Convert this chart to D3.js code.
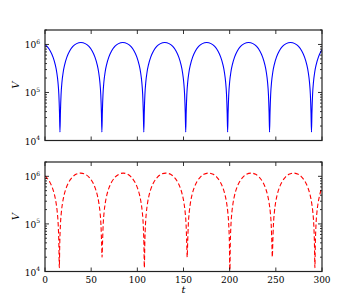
<!DOCTYPE html>
<html><head><meta charset="utf-8">
<script src="https://cdn.jsdelivr.net/npm/d3@7"></script>
<style>body{margin:0;background:#fff}svg{display:block}</style>
</head><body>
<svg id="c" width="358" height="303"></svg>
<script>
// ---- data ----
const xTicks = [0, 50, 100, 150, 200, 250, 300];
const yTicks = [1e4, 1e5, 1e6];
const xLabel = "t";
const yLabel = "V";

const tTop = [0, 2.2, 5.7, 8.7, 11.0, 12.7, 14.0, 15.0, 15.7, 16.2,
  16.7, 17.4, 18.4, 19.7, 21.4, 23.7, 26.7, 30.2, 34.2, 38.9, 43.6, 47.6, 51.1, 54.1, 56.4, 58.1, 59.4, 60.4, 61.1, 61.6,
  62.1, 62.8, 63.8, 65.1, 66.8, 69.1, 72.1, 75.6, 79.6, 84.3, 89.0, 93.0, 96.5, 99.5, 101.8, 103.5, 104.8, 105.8, 106.5, 107.0,
  107.5, 108.2, 109.2, 110.5, 112.2, 114.5, 117.5, 121.0, 125.0, 129.7, 134.4, 138.4, 141.9, 144.9, 147.2, 148.9, 150.2, 151.2, 151.9, 152.4,
  152.9, 153.6, 154.6, 155.9, 157.6, 159.9, 162.9, 166.4, 170.4, 175.1, 179.8, 183.8, 187.3, 190.3, 192.6, 194.3, 195.6, 196.6, 197.3, 197.8,
  198.3, 199.0, 200.0, 201.3, 203.0, 205.3, 208.3, 211.8, 215.8, 220.5, 225.2, 229.2, 232.7, 235.7, 238.0, 239.7, 241.0, 242.0, 242.7, 243.2,
  243.7, 244.4, 245.4, 246.7, 248.4, 250.7, 253.7, 257.2, 261.2, 265.9, 270.6, 274.6, 278.1, 281.1, 283.4, 285.1, 286.4, 287.4, 288.1, 288.6,
  289.1, 289.8, 290.8, 292.1, 293.8, 296.1, 299.1, 300];
const vTop = [9.9e5, 9.07e5, 7.31e5, 5.46e5, 3.87e5, 2.64e5, 1.67e5, 9.1e4, 3.8e4, 1.5e4,
  3.8e4, 9.1e4, 1.67e5, 2.64e5, 3.87e5, 5.46e5, 7.31e5, 9.07e5, 1.04e6, 1.10e6, 1.04e6, 9.07e5, 7.31e5, 5.46e5, 3.87e5, 2.64e5, 1.67e5, 9.1e4, 3.8e4, 1.5e4,
  3.8e4, 9.1e4, 1.67e5, 2.64e5, 3.87e5, 5.46e5, 7.31e5, 9.07e5, 1.04e6, 1.10e6, 1.04e6, 9.07e5, 7.31e5, 5.46e5, 3.87e5, 2.64e5, 1.67e5, 9.1e4, 3.8e4, 1.5e4,
  3.8e4, 9.1e4, 1.67e5, 2.64e5, 3.87e5, 5.46e5, 7.31e5, 9.07e5, 1.04e6, 1.10e6, 1.04e6, 9.07e5, 7.31e5, 5.46e5, 3.87e5, 2.64e5, 1.67e5, 9.1e4, 3.8e4, 1.5e4,
  3.8e4, 9.1e4, 1.67e5, 2.64e5, 3.87e5, 5.46e5, 7.31e5, 9.07e5, 1.04e6, 1.10e6, 1.04e6, 9.07e5, 7.31e5, 5.46e5, 3.87e5, 2.64e5, 1.67e5, 9.1e4, 3.8e4, 1.5e4,
  3.8e4, 9.1e4, 1.67e5, 2.64e5, 3.87e5, 5.46e5, 7.31e5, 9.07e5, 1.04e6, 1.10e6, 1.04e6, 9.07e5, 7.31e5, 5.46e5, 3.87e5, 2.64e5, 1.67e5, 9.1e4, 3.8e4, 1.5e4,
  3.8e4, 9.1e4, 1.67e5, 2.64e5, 3.87e5, 5.46e5, 7.31e5, 9.07e5, 1.04e6, 1.10e6, 1.04e6, 9.07e5, 7.31e5, 5.46e5, 3.87e5, 2.64e5, 1.67e5, 9.1e4, 3.8e4, 1.5e4,
  3.8e4, 9.1e4, 1.67e5, 2.64e5, 3.87e5, 5.46e5, 7.31e5, 7.8e5];

const tBottom = [0, 1.5, 5.0, 8.0, 10.3, 12.0, 13.3, 14.3, 15.0, 15.5,
  16.0, 16.7, 17.7, 19.0, 20.7, 23.0, 26.0, 29.5, 33.5, 38.7, 43.8, 47.8, 51.3, 54.3, 56.6, 58.3, 59.6, 60.6, 61.3, 61.8,
  62.3, 63.0, 64.0, 65.3, 67.0, 69.3, 72.3, 75.8, 79.8, 84.7, 89.6, 93.6, 97.1, 100.1, 102.4, 104.1, 105.4, 106.4, 107.1, 107.6,
  108.1, 108.8, 109.8, 111.1, 112.8, 115.1, 118.1, 121.6, 125.6, 130.8, 136.0, 140.0, 143.5, 146.5, 148.8, 150.5, 151.8, 152.8, 153.5, 154.0,
  154.5, 155.2, 156.2, 157.5, 159.2, 161.5, 164.5, 168.0, 172.0, 177.1, 182.2, 186.2, 189.7, 192.7, 195.0, 196.7, 198.0, 199.0, 199.7, 200.2,
  200.7, 201.4, 202.4, 203.7, 205.4, 207.7, 210.7, 214.2, 218.2, 223.2, 228.2, 232.2, 235.7, 238.7, 241.0, 242.7, 244.0, 245.0, 245.7, 246.2,
  246.7, 247.4, 248.4, 249.7, 251.4, 253.7, 256.7, 260.2, 264.2, 269.3, 274.3, 278.3, 281.8, 284.8, 287.1, 288.8, 290.1, 291.1, 291.8, 292.3,
  292.8, 293.5, 294.5, 295.8, 297.5, 299.8, 300];
const vBottom = [1.02e6, 9.55e5, 7.68e5, 5.72e5, 4.06e5, 2.76e5, 1.75e5, 9.56e4, 4.0e4, 1.2e4,
  4.0e4, 9.56e4, 1.75e5, 2.76e5, 4.06e5, 5.72e5, 7.68e5, 9.55e5, 1.10e6, 1.17e6, 1.10e6, 9.55e5, 7.68e5, 5.72e5, 4.06e5, 2.76e5, 1.75e5, 9.56e4, 4.0e4, 2.0e4,
  4.0e4, 9.56e4, 1.75e5, 2.76e5, 4.06e5, 5.72e5, 7.68e5, 9.55e5, 1.10e6, 1.17e6, 1.10e6, 9.55e5, 7.68e5, 5.72e5, 4.06e5, 2.76e5, 1.75e5, 9.56e4, 4.0e4, 1.2e4,
  4.0e4, 9.56e4, 1.75e5, 2.76e5, 4.06e5, 5.72e5, 7.68e5, 9.55e5, 1.10e6, 1.17e6, 1.10e6, 9.55e5, 7.68e5, 5.72e5, 4.06e5, 2.76e5, 1.75e5, 9.56e4, 4.0e4, 2.0e4,
  4.0e4, 9.56e4, 1.75e5, 2.76e5, 4.06e5, 5.72e5, 7.68e5, 9.55e5, 1.10e6, 1.17e6, 1.10e6, 9.55e5, 7.68e5, 5.72e5, 4.06e5, 2.76e5, 1.75e5, 9.56e4, 4.0e4, 9.0e3,
  4.0e4, 9.56e4, 1.75e5, 2.76e5, 4.06e5, 5.72e5, 7.68e5, 9.55e5, 1.10e6, 1.17e6, 1.10e6, 9.55e5, 7.68e5, 5.72e5, 4.06e5, 2.76e5, 1.75e5, 9.56e4, 4.0e4, 2.0e4,
  4.0e4, 9.56e4, 1.75e5, 2.76e5, 4.06e5, 5.72e5, 7.68e5, 9.55e5, 1.10e6, 1.17e6, 1.10e6, 9.55e5, 7.68e5, 5.72e5, 4.06e5, 2.76e5, 1.75e5, 9.56e4, 4.0e4, 1.2e4,
  4.0e4, 9.56e4, 1.75e5, 2.76e5, 4.06e5, 5.72e5, 5.86e5];

// ---- drawing ----
const svg = d3.select("#c");
const L = 45, R = 322;
const panels = [
  {top: 30, bottom: 140.5, t: tTop, v: vTop, color: "#0000ff", dash: null, labels: false, id: "p1"},
  {top: 162, bottom: 271.5, t: tBottom, v: vBottom, color: "#ff0000", dash: "4.5,2.5", labels: true, id: "p2"}
];
const x = d3.scaleLinear().domain([0, 300]).range([L, R]);
const serif = "DejaVu Serif";

panels.forEach(p => {
  const y = d3.scaleLog().domain([1e4, 2e6]).range([p.bottom, p.top]);
  const g = svg.append("g");
  g.append("clipPath").attr("id", p.id).append("rect")
    .attr("x", L).attr("y", p.top).attr("width", R - L).attr("height", p.bottom - p.top);

  const data = p.t.map((t, i) => [t, p.v[i]]);
  const line = d3.line().x(d => x(d[0])).y(d => y(d[1])).curve(d3.curveMonotoneX);
  g.append("path").datum(data).attr("d", line)
    .attr("clip-path", `url(#${p.id})`)
    .attr("fill", "none").attr("stroke", p.color).attr("stroke-width", 1.1)
    .attr("stroke-dasharray", p.dash);

  // ticks (inward on all sides)
  const tk = g.append("g").attr("stroke", "#000").attr("stroke-width", 0.8);
  xTicks.forEach(v => {
    tk.append("line").attr("x1", x(v)).attr("x2", x(v)).attr("y1", p.bottom).attr("y2", p.bottom - 4);
    tk.append("line").attr("x1", x(v)).attr("x2", x(v)).attr("y1", p.top).attr("y2", p.top + 4);
  });
  const minor = [];
  [1e4, 1e5, 1e6].forEach(dec => { for (let k = 2; k <= 9; k++) if (dec * k <= 2e6) minor.push(dec * k); });
  minor.forEach(v => {
    tk.append("line").attr("x1", L).attr("x2", L + 2).attr("y1", y(v)).attr("y2", y(v));
    tk.append("line").attr("x1", R).attr("x2", R - 2).attr("y1", y(v)).attr("y2", y(v));
  });
  yTicks.forEach(v => {
    tk.append("line").attr("x1", L).attr("x2", L + 4).attr("y1", y(v)).attr("y2", y(v));
    tk.append("line").attr("x1", R).attr("x2", R - 4).attr("y1", y(v)).attr("y2", y(v));
  });

  // frame
  g.append("rect").attr("x", L).attr("y", p.top).attr("width", R - L).attr("height", p.bottom - p.top)
    .attr("fill", "none").attr("stroke", "#222").attr("stroke-width", 1.2);

  // y tick labels
  yTicks.forEach(v => {
    const e = Math.round(Math.log10(v));
    const tx = g.append("text").attr("x", 40).attr("y", y(v) + 4)
      .attr("text-anchor", "end").attr("font-family", serif).attr("font-size", 9).attr("fill", "#000");
    tx.append("tspan").text("10");
    tx.append("tspan").attr("dy", -4.5).attr("font-size", 6).text(e);
  });

  if (p.labels) {
    xTicks.forEach(v => {
      g.append("text").attr("x", x(v)).attr("y", p.bottom + 11)
        .attr("text-anchor", "middle").attr("font-family", serif).attr("font-size", 9).attr("fill", "#000")
        .text(v);
    });
    g.append("text").attr("x", (L + R) / 2).attr("y", 293)
      .attr("text-anchor", "middle").attr("font-family", serif).attr("font-style", "italic")
      .attr("font-size", 10).text(xLabel);
  }
  g.append("text").attr("transform", `translate(19,${(p.top + p.bottom) / 2}) rotate(-90)`)
    .attr("text-anchor", "middle").attr("font-family", serif).attr("font-style", "italic")
    .attr("font-size", 10).text(yLabel);
});
</script>
</body></html>
